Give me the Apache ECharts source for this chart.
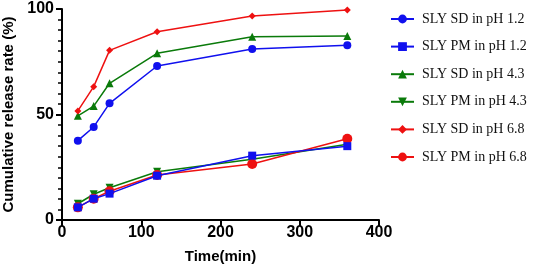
<!DOCTYPE html>
<html>
<head>
<meta charset="utf-8">
<script src="https://cdn.jsdelivr.net/npm/echarts@6/dist/echarts.min.js"></script>
<style>
  html, body { margin: 0; padding: 0; background: #fff; }
  #chart { width: 536px; height: 278px; }
</style>
</head>
<body>
<div id="chart"></div>
<script>
// time points (min)
const times = [20, 40, 60, 120, 240, 360];

const sdPh12 = [37.6, 44.1, 55.3, 73.0, 81.0, 82.8];
const pmPh12 = [6.0, 10.1, 12.5, 21.0, 30.5, 35.0];
const sdPh43 = [49.4, 54.0, 64.8, 79.0, 86.9, 87.2];
const pmPh43 = [7.7, 12.2, 15.3, 22.9, 28.8, 35.9];
const sdPh68 = [51.7, 63.2, 80.4, 89.2, 96.7, 99.5];
const pmPh68 = [6.0, 10.1, 13.6, 21.3, 26.5, 38.5];

const BLUE = "#1010ee";
const GREEN = "#0a7a0a";
const RED = "#ee1111";

function pairs(vals) {
  return times.map((t, i) => [t, vals[i]]);
}

function mkSeries(name, vals, color, symbol, size, z) {
  return {
    name: name,
    type: "line",
    data: pairs(vals),
    symbol: symbol,
    symbolSize: size,
    showAllSymbol: true,
    z: z,
    lineStyle: { color: color, width: 1.5 },
    itemStyle: { color: color },
    emphasis: { disabled: true },
  };
}

const chart = echarts.init(document.getElementById("chart"));
chart.setOption({
  animation: false,
  backgroundColor: "#fff",
  grid: { left: 62, right: 157, top: 9, bottom: 58, containLabel: false, outerBoundsMode: "none" },
  xAxis: {
    type: "value",
    min: 0,
    max: 400,
    interval: 100,
    name: "Time(min)",
    nameLocation: "middle",
    nameGap: 29,
    nameTextStyle: { fontFamily: "Liberation Sans", fontWeight: "bold", fontSize: 15, color: "#000" },
    axisLine: { show: true, lineStyle: { color: "#000", width: 2 } },
    axisTick: { show: true, inside: false, length: 6, lineStyle: { color: "#000", width: 2 } },
    axisLabel: { color: "#000", fontFamily: "Liberation Sans", fontWeight: "bold", fontSize: 16, margin: 5 },
    splitLine: { show: false },
  },
  yAxis: {
    type: "value",
    min: 0,
    max: 100,
    interval: 50,
    name: "Cumulative release rate (%)",
    nameLocation: "middle",
    nameGap: 39,
    nameTextStyle: { fontFamily: "Liberation Sans", fontWeight: "bold", fontSize: 15, color: "#000" },
    axisLine: { show: true, lineStyle: { color: "#000", width: 2 } },
    axisTick: { show: true, inside: false, length: 6, lineStyle: { color: "#000", width: 2 } },
    minorTick: { show: true, splitNumber: 10, length: 4, lineStyle: { color: "#000", width: 1.5 } },
    axisLabel: { color: "#000", fontFamily: "Liberation Sans", fontWeight: "bold", fontSize: 16, margin: 8 },
    splitLine: { show: false },
  },
  legend: {
    orient: "vertical",
    left: 385,
    top: 7,
    itemWidth: 23,
    itemHeight: 11,
    itemGap: 13.6,
    textStyle: { fontFamily: "Liberation Serif", fontSize: 14, color: "#111", padding: [0, 0, 0, 3] },
    data: [
      "SLY SD in pH 1.2",
      "SLY PM in pH 1.2",
      "SLY SD in pH 4.3",
      "SLY PM in pH 4.3",
      "SLY SD in pH 6.8",
      "SLY PM in pH 6.8",
    ],
  },
  series: [
    mkSeries("SLY SD in pH 1.2", sdPh12, BLUE, "circle", 8, 3),
    mkSeries("SLY PM in pH 1.2", pmPh12, BLUE, "rect", 8, 6),
    mkSeries("SLY SD in pH 4.3", sdPh43, GREEN, "triangle", 8, 4),
    mkSeries("SLY PM in pH 4.3", pmPh43, GREEN, "path://M0,0 L10,0 L5,9 Z", 8, 4),
    mkSeries("SLY SD in pH 6.8", sdPh68, RED, "diamond", 7, 5),
    mkSeries("SLY PM in pH 6.8", pmPh68, RED, "circle", 10, 5),
  ],
});
</script>
</body>
</html>
